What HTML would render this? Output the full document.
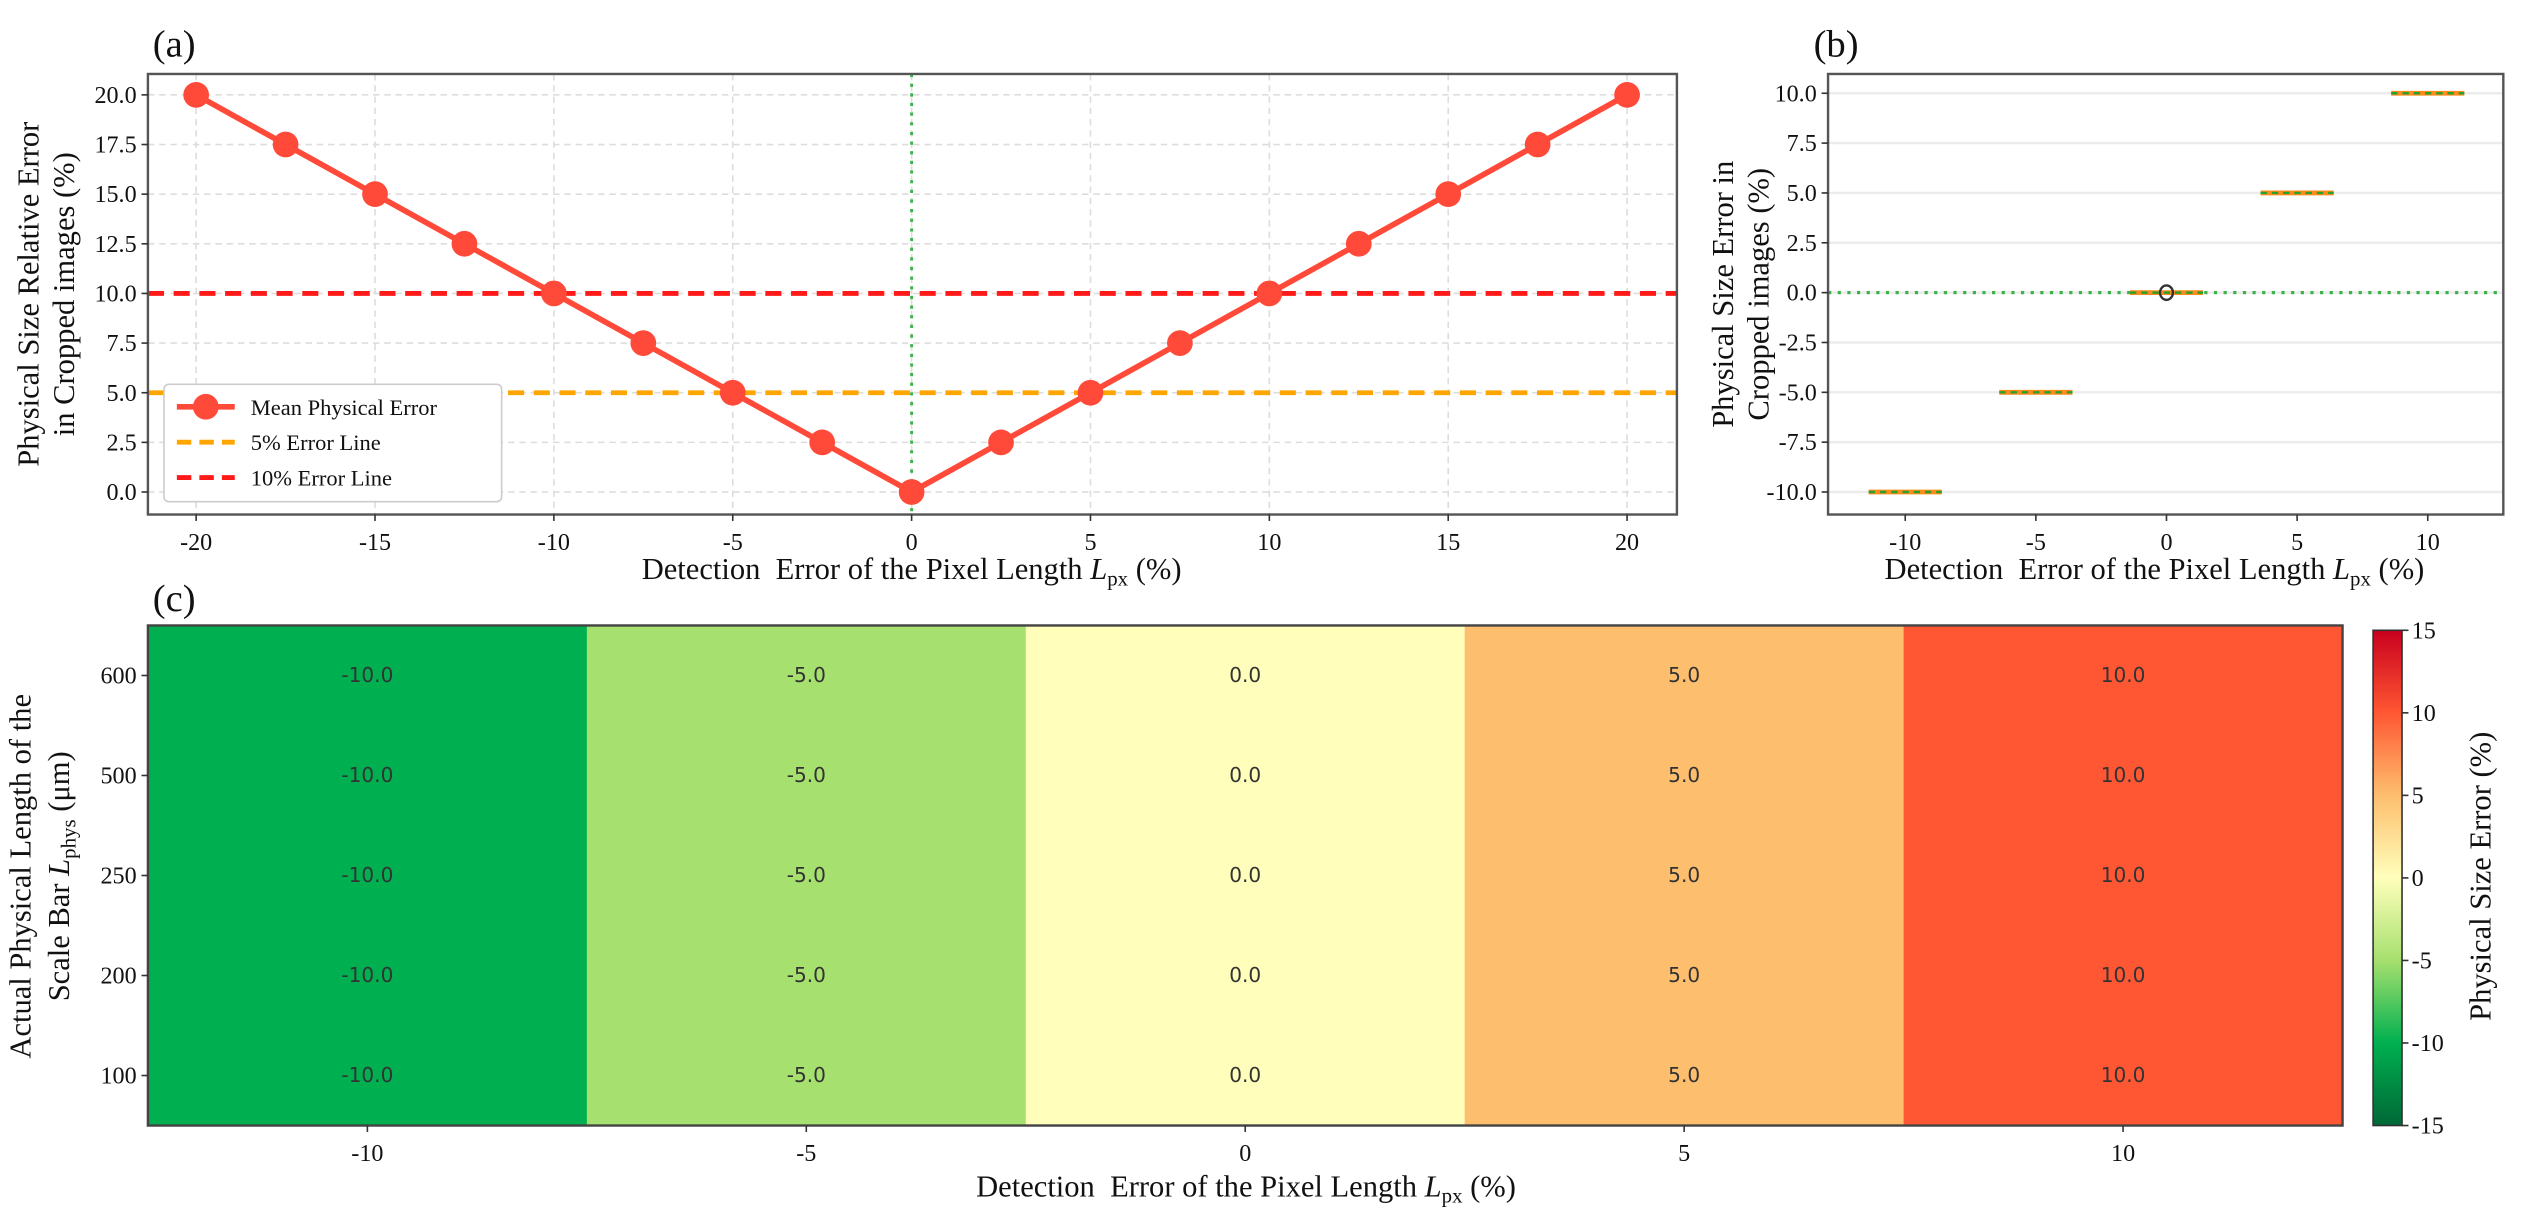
<!DOCTYPE html>
<html><head><meta charset="utf-8"><style>
html,body{margin:0;padding:0;background:#fff;overflow:hidden}
svg{display:block}
text{font-family:"Liberation Serif",serif;fill:#111}
</style></head><body>
<svg id="fig" width="2521" height="1222" viewBox="0 0 1568 760" preserveAspectRatio="none" xmlns="http://www.w3.org/2000/svg">
<defs>
<linearGradient id="cbgrad" x1="0" y1="1" x2="0" y2="0">
<stop offset="0" stop-color="#006837"/><stop offset="0.167" stop-color="#00b050"/><stop offset="0.333" stop-color="#a6e06e"/><stop offset="0.5" stop-color="#ffffbb"/><stop offset="0.667" stop-color="#fdbe6e"/><stop offset="0.833" stop-color="#ff5733"/><stop offset="1" stop-color="#c8001e"/>
</linearGradient>
</defs>
<text x="95" y="35" font-size="24">(a)</text>
<text x="1128" y="35" font-size="24">(b)</text>
<text x="95" y="380" font-size="24">(c)</text>
<g id="pa"></g>
<g id="pb"></g>
<g id="pc"></g>
</svg>
<script>
// Panel (a) data
const aX = [-20,-17.5,-15,-12.5,-10,-7.5,-5,-2.5,0,2.5,5,7.5,10,12.5,15,17.5,20];
const aY = [20,17.5,15,12.5,10,7.5,5,2.5,0,2.5,5,7.5,10,12.5,15,17.5,20];
const aXTicks = [-20,-15,-10,-5,0,5,10,15,20];
const aYTicks = [0,2.5,5,7.5,10,12.5,15,17.5,20];
const aRefLines = [5,10];
// Panel (b) data
const bX = [-10,-5,0,5,10];
const bY = [-10,-5,0,5,10];
const bXTicks = [-10,-5,0,5,10];
const bYTicks = [-10,-7.5,-5,-2.5,0,2.5,5,7.5,10];
// Panel (c) data
const cCols = [-10,-5,0,5,10];
const cRows = [600,500,250,200,100];
const cValues = [[-10,-5,0,5,10],[-10,-5,0,5,10],[-10,-5,0,5,10],[-10,-5,0,5,10],[-10,-5,0,5,10]];
const cbTicks = [15,10,5,0,-5,-10,-15];

const NS='http://www.w3.org/2000/svg';
function mk(parent,tag,attrs,txt){const e=document.createElementNS(NS,tag);for(const k in attrs)e.setAttribute(k,attrs[k]);if(txt!==undefined)e.textContent=txt;parent.appendChild(e);return e;}
function lin(d0,d1,r0,r1){return v=>r0+(v-d0)*(r1-r0)/(d1-d0);}

// ---------- Panel A ----------
(function(){
const g=document.getElementById('pa');
const L=92,R=1043,T=46,B=320;
const sx=lin(-20,20,122,1012), sy=lin(0,20,306,59);
aXTicks.forEach(t=>{const l=mk(g,'line',{x1:sx(t),x2:sx(t),y1:T,y2:B,stroke:'#ddd','stroke-width':1,'stroke-dasharray':'4 3'});
});
aYTicks.forEach(t=>{const l=mk(g,'line',{x1:L,x2:R,y1:sy(t),y2:sy(t),stroke:'#ddd','stroke-width':1,'stroke-dasharray':'4 3'});
});
let z=mk(g,'line',{x1:sx(0),x2:sx(0),y1:T,y2:B,stroke:'#3cb44b','stroke-width':1.8,'stroke-dasharray':'2 4'});

const rc=['#ffa500','#ff1a1a'];
aRefLines.forEach((v,i)=>{const l=mk(g,'line',{x1:L,x2:R,y1:sy(v),y2:sy(v),stroke:rc[i],'stroke-width':3,'stroke-dasharray':'10 6'});
});
const pts=aX.map((x,i)=>sx(x)+','+sy(aY[i])).join(' ');
const pl=mk(g,'polyline',{points:pts,fill:'none',stroke:'#ff4a3a','stroke-width':3.5});

aX.forEach((x,i)=>{const c=mk(g,'circle',{cx:sx(x),cy:sy(aY[i]),r:8,fill:'#ff4a3a'});
});
const fr=mk(g,'rect',{x:L,y:T,width:R-L,height:B-T,fill:'none',stroke:'#555','stroke-width':1.5});

aXTicks.forEach(t=>{mk(g,'line',{x1:sx(t),x2:sx(t),y1:B,y2:B+4,stroke:'#333'});
const tx=mk(g,'text',{x:sx(t),y:B+22,'font-size':15,'text-anchor':'middle'},String(t));
});
aYTicks.forEach(t=>{mk(g,'line',{x1:L-4,x2:L,y1:sy(t),y2:sy(t),stroke:'#333'});
const tx=mk(g,'text',{x:L-7,y:sy(t)+5,'font-size':15,'text-anchor':'end'},t.toFixed(1));
});
// legend
const lg=mk(g,'g',{});
mk(lg,'rect',{x:102,y:239,width:210,height:73,fill:'#fff',stroke:'#ccc',rx:3});
mk(lg,'line',{x1:110,x2:146,y1:253,y2:253,stroke:'#ff4a3a','stroke-width':3.5});
mk(lg,'circle',{cx:128,cy:253,r:8,fill:'#ff4a3a'});
mk(lg,'line',{x1:110,x2:146,y1:275,y2:275,stroke:'#ffa500','stroke-width':3,'stroke-dasharray':'9 5'});
mk(lg,'line',{x1:110,x2:146,y1:297,y2:297,stroke:'#ff1a1a','stroke-width':3,'stroke-dasharray':'9 5'});
[['Mean Physical Error',258],['5% Error Line',280],['10% Error Line',302]].forEach(([s,y])=>{const t=mk(lg,'text',{x:156,y:y,'font-size':14},s);
});
const yl=mk(g,'text',{'font-size':19,'text-anchor':'middle',transform:'translate(24,183) rotate(-90)'});

mk(yl,'tspan',{x:0,y:0},'Physical Size Relative Error');mk(yl,'tspan',{x:0,y:22},'in Cropped images (%)');
const xl=mk(g,'text',{x:567,y:360,'font-size':19,'text-anchor':'middle'});

xl.innerHTML='Detection&#160; Error of the Pixel Length <tspan font-style="italic">L</tspan><tspan font-size="13" dy="4">px</tspan><tspan dy="-4"> (%)</tspan>';
})();

// ---------- Panel B ----------
(function(){
const g=document.getElementById('pb');
const L=1137,R=1557,T=46,B=320;
const sx=lin(-10,10,1185,1510), sy=lin(-10,10,306,58);
bYTicks.forEach(t=>{const l=mk(g,'line',{x1:L,x2:R,y1:sy(t),y2:sy(t),stroke:'#ececec','stroke-width':1.5});
});
const z=mk(g,'line',{x1:L,x2:R,y1:sy(0),y2:sy(0),stroke:'#3cb44b','stroke-width':2,'stroke-dasharray':'2 4'});

bX.forEach((x,i)=>{const y=sy(bY[i]);
const b=mk(g,'line',{x1:sx(x-1.4),x2:sx(x+1.4),y1:y,y2:y,stroke:'#ff8c1a','stroke-width':3});

const m=mk(g,'line',{x1:sx(x-1.4),x2:sx(x+1.4),y1:y,y2:y,stroke:'#2ca02c','stroke-width':1.5,'stroke-dasharray':'4 3'});
});
const o=mk(g,'ellipse',{cx:sx(0),cy:sy(0),rx:4,ry:4.5,fill:'none',stroke:'#333','stroke-width':1.5});

const fr=mk(g,'rect',{x:L,y:T,width:R-L,height:B-T,fill:'none',stroke:'#555','stroke-width':1.5});

bXTicks.forEach(t=>{mk(g,'line',{x1:sx(t),x2:sx(t),y1:B,y2:B+4,stroke:'#333'});
const tx=mk(g,'text',{x:sx(t),y:B+22,'font-size':15,'text-anchor':'middle'},String(t));
});
bYTicks.forEach(t=>{mk(g,'line',{x1:L-4,x2:L,y1:sy(t),y2:sy(t),stroke:'#333'});
const tx=mk(g,'text',{x:L-7,y:sy(t)+5,'font-size':15,'text-anchor':'end'},t.toFixed(1));
});
const yl=mk(g,'text',{'font-size':19,'text-anchor':'middle',transform:'translate(1078,183) rotate(-90)'});

mk(yl,'tspan',{x:0,y:0},'Physical Size Error in');mk(yl,'tspan',{x:0,y:22},'Cropped images (%)');
const xl=mk(g,'text',{x:1340,y:360,'font-size':19,'text-anchor':'middle'});

xl.innerHTML='Detection&#160; Error of the Pixel Length <tspan font-style="italic">L</tspan><tspan font-size="13" dy="4">px</tspan><tspan dy="-4"> (%)</tspan>';
})();

// ---------- Panel C ----------
(function(){
const g=document.getElementById('pc');
const L=92,R=1457,T=389,B=700;
const cw=(R-L)/cCols.length, rh=(B-T)/cRows.length;
function color(v){const stops=[[-15,[0,104,55]],[-10,[0,176,80]],[-5,[166,224,110]],[0,[255,255,187]],[5,[253,190,110]],[10,[255,87,51]],[15,[200,0,30]]];
for(let i=0;i<stops.length-1;i++){const [a,ca]=stops[i],[b,cb]=stops[i+1];if(v<=b){const f=(v-a)/(b-a);return 'rgb('+ca.map((c,k)=>Math.round(c+(cb[k]-c)*f)).join(',')+')';}}return 'rgb(200,0,30)';}
cRows.forEach((r,ri)=>{cCols.forEach((c,ci)=>{const v=cValues[ri][ci];
const rect=mk(g,'rect',{x:L+ci*cw,y:T+ri*rh,width:cw+0.5,height:rh+0.5,fill:color(v)});

const t=mk(g,'text',{x:L+(ci+0.5)*cw,y:T+(ri+0.5)*rh+4,'font-size':12.5,'text-anchor':'middle',style:'font-family:"DejaVu Sans",sans-serif;fill:#333'},v.toFixed(1));
});});
const fr=mk(g,'rect',{x:L,y:T,width:R-L,height:B-T,fill:'none',stroke:'#444','stroke-width':1.5});

cCols.forEach((c,ci)=>{const x=L+(ci+0.5)*cw;mk(g,'line',{x1:x,x2:x,y1:B,y2:B+4,stroke:'#333'});
const tx=mk(g,'text',{x:x,y:B+22,'font-size':15,'text-anchor':'middle'},String(c));
});
cRows.forEach((r,ri)=>{const y=T+(ri+0.5)*rh;mk(g,'line',{x1:L-4,x2:L,y1:y,y2:y,stroke:'#333'});
const tx=mk(g,'text',{x:L-7,y:y+5,'font-size':15,'text-anchor':'end'},String(r));
});
const yl=mk(g,'text',{'font-size':19,'text-anchor':'middle',transform:'translate(19,545) rotate(-90)'});

yl.innerHTML='<tspan x="0" y="0">Actual Physical Length of the</tspan><tspan x="0" y="24">Scale Bar <tspan font-style="italic">L</tspan><tspan font-size="13" dy="4">phys</tspan><tspan dy="-4"> (μm)</tspan></tspan>';
const xl=mk(g,'text',{x:775,y:744,'font-size':19,'text-anchor':'middle'});

xl.innerHTML='Detection&#160; Error of the Pixel Length <tspan font-style="italic">L</tspan><tspan font-size="13" dy="4">px</tspan><tspan dy="-4"> (%)</tspan>';
// colorbar
const cbL=1476,cbR=1494,cbT=392,cbB=700;
const cb=mk(g,'rect',{x:cbL,y:cbT,width:cbR-cbL,height:cbB-cbT,fill:'url(#cbgrad)',stroke:'#333','stroke-width':1});

const cs=lin(-15,15,cbB,cbT);
cbTicks.forEach(t=>{mk(g,'line',{x1:cbR,x2:cbR+4,y1:cs(t),y2:cs(t),stroke:'#333'});
const tx=mk(g,'text',{x:cbR+6,y:cs(t)+5,'font-size':15},String(t));
});
const cl=mk(g,'text',{'font-size':19,'text-anchor':'middle',transform:'translate(1549,545) rotate(-90)'},'Physical Size Error (%)');

})();
</script>
</body></html>
